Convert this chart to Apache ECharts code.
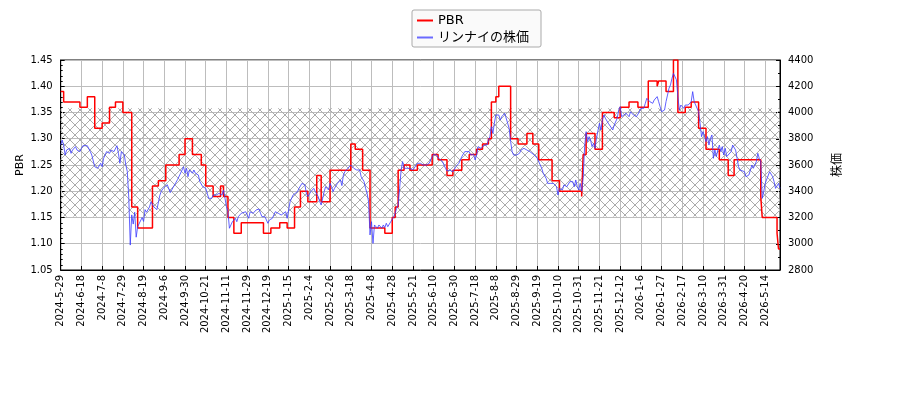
<!DOCTYPE html>
<html>
<head>
<meta charset="utf-8">
<script src="https://cdn.jsdelivr.net/npm/echarts@6/dist/echarts.min.js"></script>
<style>
html,body{margin:0;padding:0;background:#fff;}
#chart{width:900px;height:400px;}
</style>
</head>
<body>
<div id="chart"></div>
<script>
// x tick labels (one every 14 trading days, starting at day 0)
const tickLabels = ['2024-5-29','2024-6-18','2024-7-8','2024-7-29','2024-8-19','2024-9-6','2024-9-30','2024-10-21','2024-11-11','2024-11-29','2024-12-19','2025-1-15','2025-2-4','2025-2-26','2025-3-18','2025-4-8','2025-4-28','2025-5-21','2025-6-10','2025-6-30','2025-7-18','2025-8-8','2025-8-29','2025-9-19','2025-10-10','2025-10-31','2025-11-21','2025-12-12','2026-1-6','2026-1-27','2026-2-17','2026-3-10','2026-3-31','2026-4-20','2026-5-14'];
const tickEvery = 14;
const lastDay = 486;

// PBR: [trading-day index, value] at each change
const pbrSteps = [[0,1.39],[2,1.37],[13,1.36],[18,1.38],[23,1.32],[28,1.33],[33,1.36],[37,1.37],[42,1.35],[48,1.17],[52,1.13],[62,1.21],[66,1.22],[71,1.25],[80,1.27],[84,1.30],[89,1.27],[95,1.25],[98,1.21],[103,1.19],[108,1.21],[110,1.19],[113,1.15],[117,1.12],[122,1.14],[137,1.12],[142,1.13],[148,1.14],[153,1.13],[158,1.17],[162,1.20],[167,1.18],[173,1.23],[176,1.18],[182,1.24],[196,1.29],[199,1.28],[204,1.24],[209,1.13],[219,1.12],[224,1.15],[226,1.17],[228,1.24],[232,1.25],[236,1.24],[241,1.25],[251,1.27],[255,1.26],[261,1.23],[265,1.24],[271,1.26],[276,1.27],[281,1.28],[285,1.29],[289,1.30],[291,1.37],[294,1.38],[296,1.40],[304,1.30],[309,1.29],[315,1.31],[319,1.29],[323,1.26],[332,1.22],[337,1.20],[352,1.19],[353,1.27],[355,1.31],[361,1.28],[366,1.35],[374,1.34],[378,1.36],[384,1.37],[390,1.36],[397,1.41],[403,1.40],[404,1.41],[409,1.39],[414,1.45],[417,1.35],[422,1.36],[426,1.37],[431,1.32],[436,1.28],[445,1.26],[451,1.23],[455,1.26],[473,1.19],[474,1.15],[484,1.12],[485,1.09],[486,1.09]];

// Share price: [trading-day index, price]
const priceDaily = [[0,3752],[1,3790],[2,3752],[3,3676],[4,3714],[5,3702],[6,3727],[7,3689],[8,3714],[10,3740],[11,3714],[12,3727],[13,3702],[14,3727],[15,3747],[18,3747],[19,3740],[20,3702],[21,3676],[22,3664],[23,3587],[24,3600],[25,3575],[27,3613],[28,3587],[29,3651],[30,3664],[31,3702],[32,3714],[33,3689],[34,3714],[36,3702],[37,3714],[38,3747],[39,3689],[40,3613],[41,3702],[42,3689],[43,3676],[44,3600],[45,3550],[46,3350],[47,2990],[48,3220],[49,3150],[50,3240],[51,3050],[52,3130],[53,3120],[55,3200],[56,3170],[57,3260],[58,3240],[60,3280],[61,3320],[63,3280],[65,3260],[67,3370],[68,3400],[69,3420],[72,3450],[74,3390],[76,3430],[78,3470],[79,3490],[80,3500],[82,3562],[83,3587],[84,3537],[85,3575],[86,3511],[87,3562],[89,3537],[90,3562],[91,3537],[92,3549],[93,3524],[94,3473],[95,3460],[96,3435],[98,3422],[99,3384],[100,3346],[101,3359],[102,3346],[103,3371],[104,3384],[105,3371],[107,3384],[108,3397],[109,3371],[110,3410],[111,3346],[112,3283],[113,3244],[114,3118],[116,3168],[117,3156],[118,3194],[119,3168],[120,3206],[121,3194],[122,3232],[123,3219],[125,3244],[126,3219],[127,3194],[128,3244],[129,3257],[130,3232],[131,3219],[132,3257],[134,3265],[135,3232],[136,3206],[137,3194],[138,3206],[139,3181],[140,3156],[141,3181],[143,3194],[144,3206],[145,3244],[146,3257],[147,3232],[148,3244],[149,3219],[150,3232],[152,3244],[153,3194],[154,3257],[155,3321],[156,3333],[157,3371],[158,3359],[160,3397],[161,3422],[162,3435],[163,3460],[164,3468],[165,3448],[166,3384],[167,3359],[169,3397],[170,3410],[171,3422],[172,3397],[173,3397],[174,3359],[175,3321],[176,3295],[178,3397],[179,3435],[180,3422],[181,3410],[182,3460],[183,3435],[184,3397],[185,3422],[187,3460],[188,3473],[189,3486],[190,3443],[191,3524],[192,3549],[193,3544],[194,3575],[196,3600],[197,3587],[198,3575],[199,3580],[200,3562],[201,3575],[202,3562],[203,3511],[205,3473],[206,3422],[207,3384],[208,3321],[209,3067],[210,3168],[211,3003],[212,3143],[213,3130],[214,3118],[215,3143],[216,3130],[217,3118],[218,3143],[219,3123],[220,3156],[221,3130],[223,3168],[224,3181],[225,3206],[226,3232],[227,3270],[228,3295],[229,3422],[230,3562],[231,3626],[232,3575],[233,3587],[234,3575],[235,3587],[236,3575],[237,3587],[238,3562],[239,3575],[241,3613],[242,3600],[243,3613],[244,3600],[245,3600],[246,3605],[247,3600],[249,3613],[250,3626],[251,3664],[252,3681],[253,3686],[254,3676],[255,3656],[256,3651],[258,3626],[259,3600],[260,3575],[261,3554],[262,3549],[263,3562],[264,3575],[265,3549],[267,3587],[268,3600],[269,3613],[270,3638],[271,3664],[272,3676],[273,3702],[274,3714],[276,3702],[277,3676],[278,3689],[279,3681],[280,3638],[281,3676],[282,3740],[284,3727],[285,3740],[286,3752],[287,3765],[288,3752],[289,3791],[290,3816],[291,3892],[292,3841],[293,3918],[294,3981],[295,3968],[296,3981],[297,3943],[298,3968],[299,3956],[300,3994],[302,3918],[303,3879],[304,3778],[305,3702],[306,3676],[307,3664],[308,3676],[310,3689],[311,3714],[312,3702],[313,3727],[314,3740],[315,3714],[316,3714],[317,3702],[318,3689],[320,3676],[321,3676],[322,3651],[323,3638],[324,3600],[325,3575],[326,3537],[328,3498],[329,3460],[330,3473],[331,3460],[332,3473],[333,3460],[334,3448],[335,3435],[336,3371],[337,3422],[338,3435],[339,3410],[340,3448],[341,3460],[342,3435],[343,3448],[344,3473],[346,3473],[347,3435],[348,3486],[349,3435],[350,3410],[351,3460],[352,3400],[353,3498],[354,3740],[355,3854],[356,3778],[357,3816],[358,3791],[359,3740],[360,3765],[361,3727],[362,3803],[364,3918],[365,3867],[366,3943],[367,3981],[368,3956],[369,3943],[370,3918],[371,3905],[373,3867],[374,3905],[375,3892],[376,3956],[377,4019],[378,4044],[379,3968],[380,3981],[382,3994],[383,3981],[384,3968],[385,4006],[386,3994],[387,3981],[388,3981],[389,3968],[391,4006],[392,4032],[393,4019],[394,4032],[395,4070],[396,4108],[397,4108],[398,4083],[400,4070],[401,4095],[402,4108],[403,4121],[404,4083],[405,4044],[406,4006],[408,4019],[409,4083],[410,4133],[411,4184],[412,4210],[413,4260],[414,4298],[415,4311],[416,4250],[417,4121],[418,4019],[419,4057],[420,4044],[421,4032],[422,4057],[423,4044],[424,4057],[425,4044],[426,4083],[427,4159],[428,4083],[429,4057],[430,4057],[431,4006],[432,3918],[433,3816],[434,3854],[435,3841],[436,3778],[437,3816],[438,3752],[439,3803],[440,3829],[441,3651],[442,3714],[443,3664],[444,3714],[445,3752],[446,3702],[447,3740],[448,3676],[449,3727],[450,3664],[451,3676],[453,3702],[454,3752],[455,3740],[456,3714],[457,3651],[458,3587],[459,3562],[460,3575],[462,3549],[463,3511],[464,3498],[465,3524],[466,3537],[467,3600],[468,3575],[470,3626],[471,3689],[472,3651],[473,3626],[474,3346],[475,3397],[476,3460],[477,3473],[479,3549],[480,3537],[481,3511],[482,3473],[483,3422],[484,3410],[485,3460],[486,3422]];

// hatched reference band on the PBR axis
const bandRange = [1.152, 1.358];

function hatchPattern(){
  const c = document.createElement('canvas');
  c.width = 10; c.height = 10;
  const g = c.getContext('2d');
  g.strokeStyle = '#ababab';
  g.lineWidth = 1;
  g.beginPath();
  g.moveTo(0,0); g.lineTo(10,10);
  g.moveTo(10,0); g.lineTo(0,10);
  g.stroke();
  return c;
}

const chart = echarts.init(document.getElementById('chart'), null, {renderer:'canvas'});
const font = 'DejaVu Sans, Noto Sans CJK JP, sans-serif';
const gridColor = '#bdbdbd';

chart.setOption({
  animation: false,
  backgroundColor: '#fff',
  textStyle: {fontFamily: font},
  grid: {left: 60.7, right: 120, top: 60, bottom: 130, show: true, borderColor: '#000', borderWidth: 1, backgroundColor: 'transparent'},
  legend: {
    left: 412, top: 10, orient: 'vertical',
    padding: [3, 12, 2, 5], itemGap: 2, itemWidth: 16, itemHeight: 2,
    backgroundColor: '#fafafa', borderColor: '#aaa', borderWidth: 1, borderRadius: 2,
    textStyle: {fontSize: 13, lineHeight: 15, color: '#000', fontFamily: font},
    data: [{name: 'PBR', icon: 'rect'}, {name: 'リンナイの株価', icon: 'rect'}]
  },
  xAxis: {
    type: 'value', min: 0, max: lastDay, interval: tickEvery,
    axisLine: {show: true, lineStyle: {color: '#000'}},
    axisTick: {show: true, inside: true, length: 4, lineStyle: {color: '#000'}},
    splitLine: {show: true, lineStyle: {color: gridColor, width: 1}},
    axisLabel: {
      rotate: 90, fontSize: 10, color: '#000', margin: 5, fontFamily: font,
      showMaxLabel: false,
      formatter: function(v){ const k = Math.round(v / tickEvery); return (v % tickEvery === 0 && tickLabels[k]) ? tickLabels[k] : ''; }
    }
  },
  yAxis: [
    {
      type: 'value', position: 'left', min: 1.05, max: 1.45, interval: 0.05,
      name: 'PBR', nameLocation: 'middle', nameGap: 35, nameRotate: 90, nameMoveOverlap: false,
      nameTextStyle: {fontSize: 11, color: '#000', fontFamily: font},
      axisLine: {show: true, lineStyle: {color: '#000'}},
      axisTick: {show: true, inside: true, length: 4, lineStyle: {color: '#000'}},
      minorTick: {show: true, splitNumber: 5, length: 2, lineStyle: {color: '#000'}},
      splitLine: {show: true, lineStyle: {color: gridColor, width: 1}},
      axisLabel: {fontSize: 10, color: '#000', margin: 8, fontFamily: font, formatter: v => v.toFixed(2)}
    },
    {
      type: 'value', position: 'right', min: 2800, max: 4400, interval: 200,
      name: '株価', nameLocation: 'middle', nameGap: 52, nameRotate: 90,
      nameTextStyle: {fontSize: 12, color: '#000', fontFamily: font},
      axisLine: {show: true, lineStyle: {color: '#000'}},
      axisTick: {show: true, inside: true, length: 4, lineStyle: {color: '#000'}},
      minorTick: {show: true, splitNumber: 2, length: 2, lineStyle: {color: '#000'}},
      splitLine: {show: false},
      axisLabel: {fontSize: 10, color: '#000', margin: 8, fontFamily: font, formatter: v => String(v)}
    }
  ],
  series: [
    {
      name: 'PBR', type: 'line', yAxisIndex: 0, step: 'end',
      data: pbrSteps, symbol: 'none', z: 3,
      lineStyle: {color: '#ff0000', width: 1.5}, itemStyle: {color: '#ff0000'},
      markArea: {
        silent: true,
        itemStyle: {color: {image: hatchPattern(), repeat: 'repeat'}, borderWidth: 0},
        data: [[{yAxis: bandRange[0]}, {yAxis: bandRange[1]}]]
      }
    },
    {
      name: 'リンナイの株価', type: 'line', yAxisIndex: 1,
      data: priceDaily, symbol: 'none', z: 4,
      lineStyle: {color: '#3a3aff', width: 0.8}, itemStyle: {color: '#6a6aff'}
    }
  ]
});
</script>
</body>
</html>
